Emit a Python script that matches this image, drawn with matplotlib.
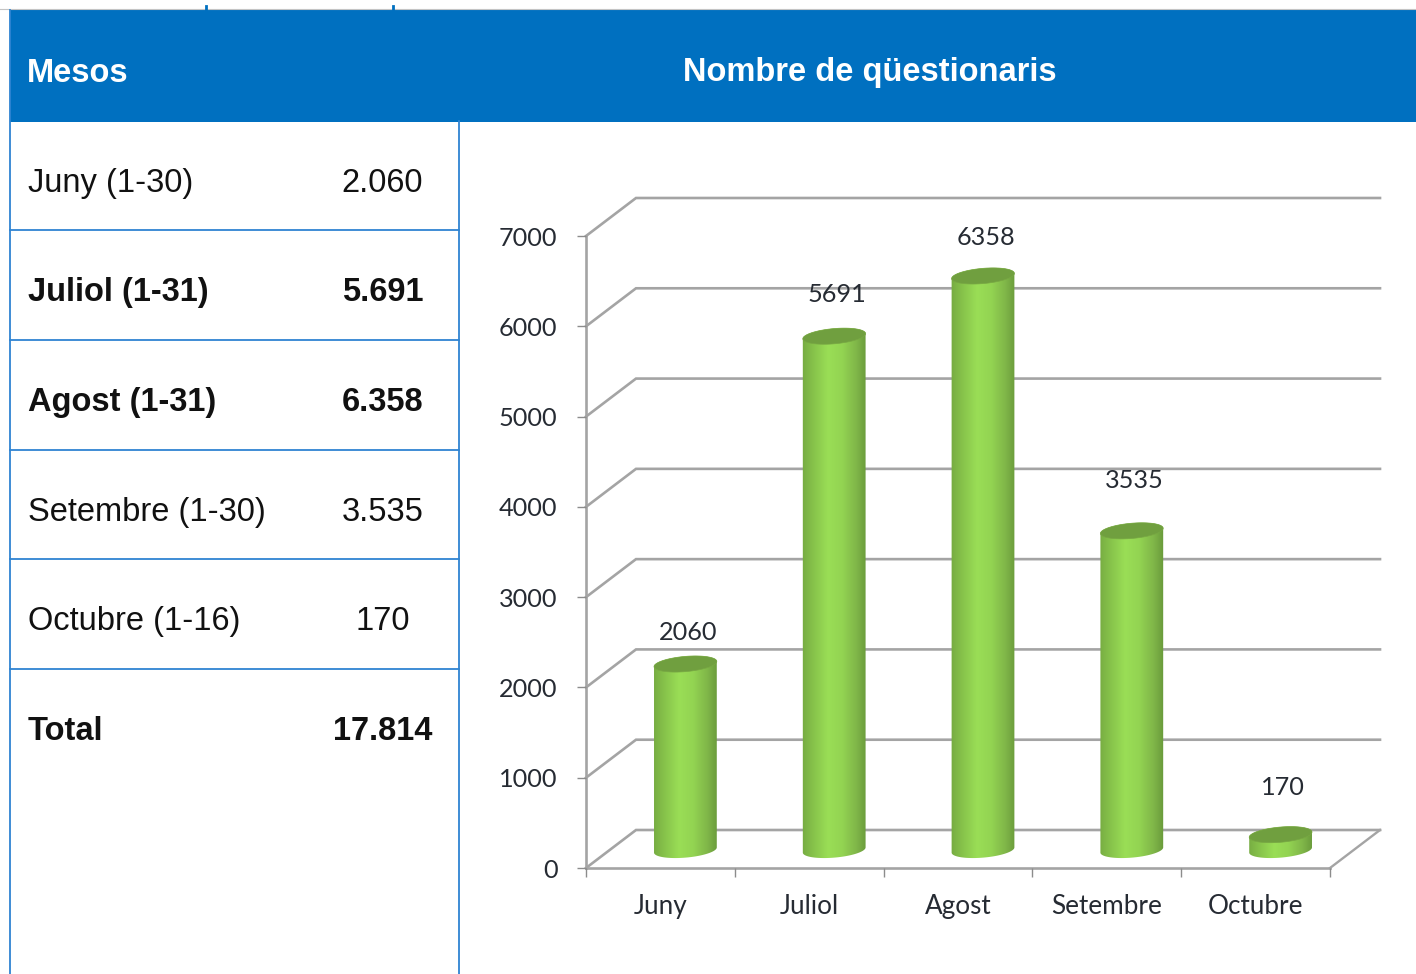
import numpy as np
import matplotlib
matplotlib.use("Agg")
import matplotlib.pyplot as plt
from matplotlib.colors import LinearSegmentedColormap
from matplotlib.patches import Polygon, Rectangle

# ---- data ----
table_months = ["Juny (1-30)", "Juliol (1-31)", "Agost (1-31)", "Setembre (1-30)", "Octubre (1-16)", "Total"]
table_values = ["2.060", "5.691", "6.358", "3.535", "170", "17.814"]
table_bold = [False, True, True, False, False, True]
categories = ["Juny", "Juliol", "Agost", "Setembre", "Octubre"]
questionnaires = [2060, 5691, 6358, 3535, 170]
y_ticks = [0, 1000, 2000, 3000, 4000, 5000, 6000, 7000]
header_left = "Mesos"
header_right = "Nombre de qüestionaris"

# ---- style ----
W, H = 1416, 974
BLUE = "#0070C0"
BORDER = "#2f84d2"
GRID = "#a4a4a4"
TEXT = "#111111"
LABEL = "#262b33"
SANS = "Liberation Sans"
CHART = "Lato"
label_lift_px = [32, 42, 38, 50, 47]

fig = plt.figure(figsize=(W / 100, H / 100), dpi=100, facecolor="white")

# ---- page / table layer in pixel coordinates ----
bg = fig.add_axes([0, 0, 1, 1])
bg.set_xlim(0, W)
bg.set_ylim(H, 0)
bg.axis("off")
bg.plot([0, W], [9, 9], color="#c4c4c4", lw=0.8)
bg.plot([205.5, 205.5], [6, 10], color=BLUE, lw=2)
bg.plot([392.5, 392.5], [6, 10], color=BLUE, lw=2)
bg.add_patch(Rectangle((10, 10), W - 10, 112, color=BLUE, lw=0))
bg.plot([10, 10], [10, H], color=BORDER, lw=1.3)
bg.plot([458.5, 458.5], [121, H], color=BORDER, lw=1.3)
for y in [229.5, 339.5, 449.5, 558.5, 668.5]:
    bg.plot([10, 458.5], [y, y], color=BORDER, lw=1.3)
bg.text(27, 73, header_left, color="white", fontsize=23.5, fontweight="bold",
        family=SANS, va="center", ha="left")
bg.text(870, 73, header_right, color="white", fontsize=23.5, fontweight="bold",
        family=SANS, va="center", ha="center")
row_y = [183.5, 292.5, 402.5, 512.5, 621.5, 731.5]
for y, m, v, b in zip(row_y, table_months, table_values, table_bold):
    w = "bold" if b else "normal"
    bg.text(28, y, m, color=TEXT, fontsize=23.5, fontweight=w, family=SANS, va="center", ha="left")
    bg.text(382.5, y, v, color=TEXT, fontsize=23.5, fontweight=w, family=SANS, va="center", ha="center")

# ---- chart axes: front plane of the pseudo-3D box ----
x0, x1, y0, y1 = 586, 1330, 868, 236
ax = fig.add_axes([x0 / W, 1 - y0 / H, (x1 - x0) / W, (y0 - y1) / H])
ax.patch.set_alpha(0)
xmin, xmax = -0.5, len(categories) - 0.5
ax.set_xlim(xmin, xmax)
ax.set_ylim(0, 7000)
px_x = (xmax - xmin) / (x1 - x0)
px_y = 7000 / (y0 - y1)
depth_x, depth_y = 50 * px_x, 38 * px_y
bar_dx, bar_dy = 25 * px_x, 18 * px_y

for v in y_ticks:
    ax.plot([xmin, xmin + depth_x, xmax + depth_x], [v, v + depth_y, v + depth_y],
            color=GRID, lw=1.9, clip_on=False, zorder=1, solid_joinstyle="miter")
ax.plot([xmax, xmax + depth_x], [0, depth_y], color=GRID, lw=1.7, clip_on=False, zorder=1)

for s in ["top", "right"]:
    ax.spines[s].set_visible(False)
for s in ["left", "bottom"]:
    ax.spines[s].set_color(GRID)
    ax.spines[s].set_linewidth(1.9)
    ax.spines[s].set_zorder(1)
ax.set_yticks(y_ticks)
ax.set_xticks(np.arange(len(categories) + 1) - 0.5)
ax.set_xticklabels([])
ax.set_xticks(np.arange(len(categories)), minor=True)
ax.set_xticklabels(categories, minor=True, fontsize=18.8, family=CHART, color=LABEL)
ax.tick_params(axis="x", which="major", length=6.5, width=1, color="#8c8c8c")
ax.tick_params(axis="x", which="minor", length=0, pad=18.5)
ax.tick_params(axis="y", length=6.5, width=1, color="#8c8c8c", pad=14, labelsize=18.2,
               labelcolor=LABEL)
for t in ax.get_yticklabels():
    t.set_family(CHART)

# ---- cylinders ----
cyl = LinearSegmentedColormap.from_list(
    "cyl", [(0, "#76ab42"), (0.12, "#82bc48"), (0.4, "#9ade56"), (0.62, "#93d452"),
            (0.85, "#7fb548"), (1, "#699a3b")])
grad = np.linspace(0, 1, 128).reshape(1, -1)
A, B, PHI = 31.5, 7.6, np.deg2rad(5)


def ellipse(cx, cy, t):
    ex = A * np.cos(t) * np.cos(PHI) - B * np.sin(t) * np.sin(PHI)
    ey = A * np.cos(t) * np.sin(PHI) + B * np.sin(t) * np.cos(PHI)
    return np.column_stack([cx + ex * px_x, cy + ey * px_y])


for i, v in enumerate(questionnaires):
    cx, bottom, top = i + bar_dx, bar_dy, v + bar_dy
    body = np.vstack([ellipse(cx, bottom, np.linspace(np.pi, 2 * np.pi, 60)),
                      ellipse(cx, top, np.linspace(0, np.pi, 60))])
    clip = Polygon(body, closed=True, transform=ax.transData, fc="none", ec="none")
    ax.add_patch(clip)
    im = ax.imshow(grad, cmap=cyl, aspect="auto", zorder=3, interpolation="bilinear",
                   extent=(cx - (A + 1) * px_x, cx + (A + 1) * px_x,
                           bottom - 12 * px_y, top + 12 * px_y), clip_on=True)
    im.set_clip_path(clip)
    ax.add_patch(Polygon(ellipse(cx, top, np.linspace(0, 2 * np.pi, 120)), closed=True,
                         fc="#709f3f", ec="#78a843", lw=0.5, zorder=4, clip_on=False))
    ax.annotate(str(v), (cx, top), xytext=(1.8, label_lift_px[i] * 0.72),
                textcoords="offset points", ha="center", va="center", fontsize=18.2,
                family=CHART, color=LABEL, zorder=5)

ax.set_xlim(xmin, xmax)
ax.set_ylim(0, 7000)
fig.savefig("out.png", dpi=100)
